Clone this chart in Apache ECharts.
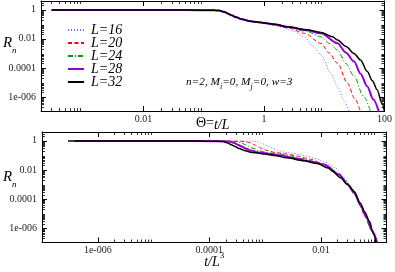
<!DOCTYPE html>
<html><head><meta charset="utf-8">
<script src="https://cdn.jsdelivr.net/npm/echarts@6/dist/echarts.min.js"></script>
<style>html,body{margin:0;padding:0;background:#fff}#c{width:395px;height:272px}</style>
</head><body><div id="c"></div>
<script>
// ---- data (Theta = t/L, R_n) ----
const L_VALUES = [16, 20, 24, 28, 32];
const seriesNames = ['L=16', 'L=20', 'L=24', 'L=28', 'L=32'];
const thetaCommon = [3e-4, 0.05, 0.15, 0.18, 0.22, 0.26, 0.29, 0.35, 0.43, 0.6, 0.8];
const rCommon     = [0.95, 0.95, 0.93, 0.88, 0.70, 0.52, 0.42, 0.30, 0.22, 0.16, 0.14];
const theta16 = [1.0, 1.5, 2, 3, 4.7, 6.5, 8.85, 12.9, 16.6, 21, 25.8];
const r16     = [0.118, 0.085, 0.063, 0.035, 0.0138, 3.2e-3, 7.9e-4, 4.5e-5, 5.4e-6, 7e-7, 1e-7];
const theta20 = [1.0, 1.5, 2.5, 4.7, 8.85, 12, 16.6, 24.3, 32, 40];
const r20     = [0.122, 0.09, 0.056, 0.024, 4.9e-3, 1.1e-3, 2.1e-4, 9e-6, 8e-7, 1e-7];
const theta24 = [1.0, 1.5, 2.5, 5, 8.85, 12, 16.6, 23, 31.3, 45, 58.6];
const r24     = [0.124, 0.095, 0.063, 0.033, 0.0138, 5e-3, 1.74e-3, 2e-4, 2.6e-5, 1.1e-6, 1e-7];
const theta28 = [1.0, 1.5, 2.5, 5, 8.85, 16.6, 23, 31.3, 40, 51.8, 65, 80.5];
const r28     = [0.125, 0.098, 0.066, 0.040, 0.024, 4.9e-3, 1.1e-3, 2.75e-4, 4e-5, 5.4e-6, 7e-7, 1e-7];
const theta32 = [1.0, 1.5, 2.5, 5, 8.85, 13.8, 16.6, 23, 31.3, 40, 51.8, 63, 75.5, 90, 100];
const r32     = [0.125, 0.10, 0.068, 0.043, 0.0275, 0.0138, 8.3e-3, 3e-3, 1.0e-3, 3.5e-4, 5.6e-5, 1.3e-5, 3.2e-6, 4e-7, 1e-7];
const tickLabels = {'-6': '1e-006', '-4': '0.0001', '-2': '0.01', '0': '1', '2': '100'};
// minor tick decades
const topXMinorDecades = [-4, -2, 0];
const botXMinorDecades = [-6, -4, -2];
const yMinorDecades = [-7, -6, -5, -4, -3, -2, -1, 0];
const minorMultipliers = [2, 3, 4, 5, 6, 7, 8, 9];

const thetaTails = [theta16, theta20, theta24, theta28, theta32];
const rTails = [r16, r20, r24, r28, r32];
const colors = ['#6a6aff', '#ff0000', '#00a000', '#9400d3', '#000000'];
const dashes = [[1, 2], [4, 2.5], [5, 2, 1, 2], 'solid', 'solid'];
const widths = [1, 1, 1, 2, 1.5];

const serif = 'Liberation Serif';
function fmt(v) {
  const e = Math.log10(v), r = Math.round(e);
  if (Math.abs(e - r) > 0.01) return '';
  return tickLabels[String(r)] || '';
}
function minorValues(decades) {
  const out = [];
  decades.forEach(e => minorMultipliers.forEach(k => out.push(k * Math.pow(10, e))));
  return out;
}
function majorAxis(type, gridIndex, min, max, position, mirror) {
  return {
    type: 'log', logBase: 100, gridIndex, min, max, position,
    axisLine: {show: true, onZero: false, lineStyle: {color: '#000', width: 1}},
    axisTick: {show: true, inside: true, length: 5, lineStyle: {color: '#000'}},
    minorTick: {show: false},
    splitLine: {show: false},
    axisLabel: {show: !mirror, formatter: fmt, fontFamily: serif, fontSize: 10, color: '#222',
      margin: type === 'x' ? 3 : 5, showMinLabel: true, showMaxLabel: true}
  };
}
function minorAxis(gridIndex, min, max, position, decades) {
  const vals = minorValues(decades).filter(v => v > min && v < max);
  return {
    type: 'log', logBase: 100, gridIndex, min, max, position,
    axisLine: {show: true, onZero: false, lineStyle: {color: 'rgba(0,0,0,0)'}},
    axisTick: {show: true, inside: true, length: 3, customValues: vals, lineStyle: {color: '#000', width: 0.8}},
    splitLine: {show: false},
    axisLabel: {show: false}
  };
}
const yMin = 1.1e-7, yMax = 4;
const nameRich = {
  u: {fontFamily: serif, fontSize: 14, color: '#000'},
  i: {fontFamily: serif, fontSize: 14, fontStyle: 'italic', color: '#000', lineHeight: 18, verticalAlign: 'bottom'},
  s: {fontFamily: serif, fontSize: 9, color: '#000', lineHeight: 18, verticalAlign: 'top'}
};
const xAxes = [
  Object.assign(majorAxis('x', 0, 2e-4, 100, 'bottom', false), {
    name: '{u|Θ=}{i|t/L}', nameLocation: 'middle', nameGap: 3, nameMoveOverlap: false, nameTextStyle: {rich: nameRich}
  }),
  majorAxis('x', 0, 2e-4, 100, 'top', true),
  Object.assign(majorAxis('x', 1, 1e-7, 0.15, 'bottom', false), {
    name: '{i|t/L}{s|3}', nameLocation: 'middle', nameGap: 9, nameMoveOverlap: false, nameTextStyle: {rich: nameRich}
  }),
  majorAxis('x', 1, 1e-7, 0.15, 'top', true),
  minorAxis(0, 2e-4, 100, 'bottom', topXMinorDecades),
  minorAxis(0, 2e-4, 100, 'top', topXMinorDecades),
  minorAxis(1, 1e-7, 0.15, 'bottom', botXMinorDecades),
  minorAxis(1, 1e-7, 0.15, 'top', botXMinorDecades)
];
const yAxes = [
  majorAxis('y', 0, yMin, yMax, 'left', false),
  majorAxis('y', 0, yMin, yMax, 'right', true),
  majorAxis('y', 1, yMin, yMax, 'left', false),
  majorAxis('y', 1, yMin, yMax, 'right', true),
  minorAxis(0, yMin, yMax, 'left', yMinorDecades),
  minorAxis(0, yMin, yMax, 'right', yMinorDecades),
  minorAxis(1, yMin, yMax, 'left', yMinorDecades),
  minorAxis(1, yMin, yMax, 'right', yMinorDecades)
];
const series = [];
L_VALUES.forEach((L, k) => {
  const th = thetaCommon.concat(thetaTails[k]);
  const rr = rCommon.concat(rTails[k]);
  const base = {
    type: 'line', name: seriesNames[k], symbol: 'none', smooth: 0.3, smoothMonotone: 'x',
    lineStyle: {color: colors[k], width: widths[k], type: dashes[k]}, itemStyle: {color: colors[k]},
    clip: true, animation: false
  };
  series.push(Object.assign({}, base, {xAxisIndex: 0, yAxisIndex: 0, data: th.map((t, i) => [t, rr[i]])}));
  series.push(Object.assign({}, base, {xAxisIndex: 2, yAxisIndex: 2, data: th.map((t, i) => [t / (L * L), rr[i]])}));
});
const chart = echarts.init(document.getElementById('c'), null, {renderer: 'canvas'});
const t = (text, left, top, size, italic) => ({type: 'text', left, top, style: {text, fontFamily: serif, fontSize: size, fontStyle: italic ? 'italic' : 'normal', fill: '#000'}});
chart.setOption({
  animation: false,
  grid: [
    {left: 41, right: 7.5, top: 1, height: 110},
    {left: 42, right: 8.5, top: 132, height: 110.5}
  ],
  xAxis: xAxes, yAxis: yAxes, series,
  legend: {
    data: seriesNames, orient: 'vertical', left: 62, top: 18, itemWidth: 16, itemHeight: 10, itemGap: -1,
    itemStyle: {color: 'rgba(0,0,0,0)', borderWidth: 0, opacity: 0},
    textStyle: {fontFamily: serif, fontSize: 14, fontStyle: 'italic', color: '#000', padding: [0, 0, 0, 2]}
  },
  graphic: [
    t('R', 3, 36, 15, true), t('n', 12, 46, 9, true),
    t('R', 3, 170, 15, true), t('n', 12, 180, 9, true),
    {type: 'text', left: 186, top: 77, style: {
      text: '{a|n=2, M}{b|i}{a|=0, M}{b|j}{a|=0, w=3}', fontFamily: serif,
      rich: {a: {fontFamily: serif, fontSize: 11.3, fontStyle: 'italic', fill: '#000', lineHeight: 16, verticalAlign: 'middle'},
             b: {fontFamily: serif, fontSize: 8, fontStyle: 'italic', fill: '#000', lineHeight: 16, verticalAlign: 'bottom'}}}}
  ]
});
</script></body></html>
